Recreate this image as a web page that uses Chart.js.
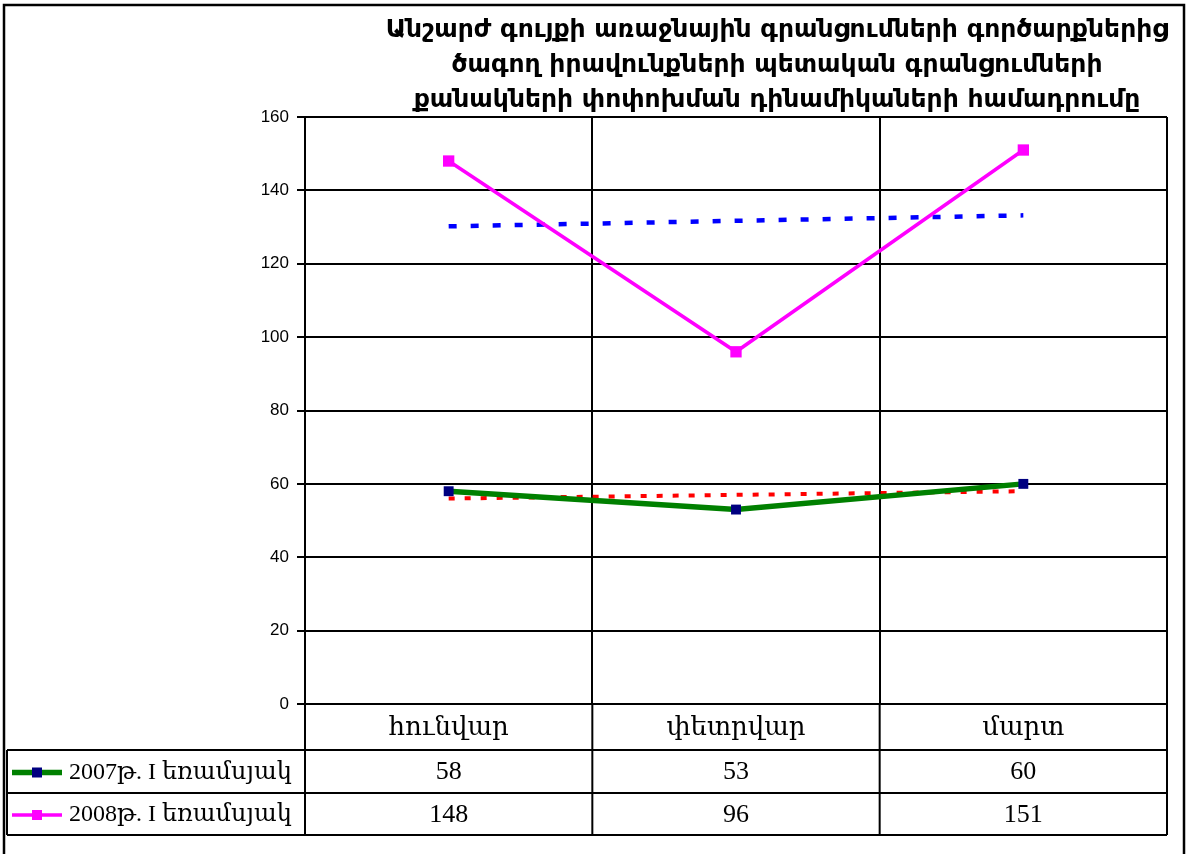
<!DOCTYPE html>
<html>
<head>
<meta charset="utf-8">
<script src="https://cdn.jsdelivr.net/npm/chart.js@4.4.1/dist/chart.umd.min.js"></script>
<style>
html,body{margin:0;padding:0;background:#fff;}
#wrap{width:1192px;height:854px;position:relative;}
</style>
</head>
<body>
<div id="wrap"><canvas id="c" width="1192" height="854"></canvas></div>
<script>
const titleLines = [
  "Անշարժ գույքի առաջնային գրանցումների գործարքներից",
  "ծագող իրավունքների պետական գրանցումների",
  "քանակների փոփոխման դինամիկաների համադրումը"
];
const categories = ["հունվար", "փետրվար", "մարտ"];
const seriesNames = ["2007թ. I եռամսյակ", "2008թ. I եռամսյակ"];
const values2007 = [58, 53, 60];
const values2008 = [148, 96, 151];
// trend lines
const trend2007 = [56, 57, 58];
const trend2008 = [130.2, 131.7, 133.2];
const yTicks = {min: 0, max: 160, step: 20};

const SERIF = '"Liberation Serif", "DejaVu Serif", serif';
const SANS = '"Liberation Sans", Arial, sans-serif';

const framePlugin = {
  id: 'frame',
  beforeDraw(chart) {
    const ctx = chart.ctx;
    ctx.save();
    ctx.fillStyle = '#fff';
    ctx.fillRect(0, 0, chart.width, chart.height);
    ctx.strokeStyle = '#000';
    ctx.lineWidth = 2.5;
    ctx.strokeRect(4, 5, 1180, 860);
    ctx.restore();
  },
  afterDraw(chart) {
    const ctx = chart.ctx;
    const xs = chart.scales.x;
    const ca = chart.chartArea;
    ctx.save();
    // title
    ctx.fillStyle = '#000';
    ctx.font = 'bold 25px "DejaVu Sans", sans-serif';
    ctx.textAlign = 'center';
    ctx.textBaseline = 'middle';
    const tcx = 777;
    titleLines.forEach((t, i) => ctx.fillText(t, tcx, 30 + i * 35));

    // table
    const n = categories.length;
    const cw = (xs.right - xs.left) / n;
    const yH = ca.bottom, y1 = 750, y2 = 793, y3 = 835;
    const tableLeft = 7;
    ctx.strokeStyle = '#000';
    ctx.lineWidth = 2;
    ctx.beginPath();
    ctx.moveTo(tableLeft, y1); ctx.lineTo(xs.right, y1);
    ctx.moveTo(tableLeft, y2); ctx.lineTo(xs.right, y2);
    ctx.moveTo(tableLeft, y3); ctx.lineTo(xs.right, y3);
    for (let i = 0; i <= n; i++) {
      const x = xs.left + i * cw;
      ctx.moveTo(x, yH); ctx.lineTo(x, y3);
    }
    ctx.moveTo(tableLeft, y1); ctx.lineTo(tableLeft, y3);
    ctx.stroke();

    ctx.font = '26px ' + SERIF;
    ctx.textAlign = 'center';
    ctx.textBaseline = 'middle';
    categories.forEach((c, i) => {
      ctx.fillText(c, xs.getPixelForValue(i), (yH + y1) / 2 + 1);
    });
    const rows = [values2007, values2008];
    const rowY = [(y1 + y2) / 2 + 1, (y2 + y3) / 2 + 1];
    rows.forEach((r, ri) => {
      r.forEach((v, i) => ctx.fillText(String(v), xs.getPixelForValue(i), rowY[ri]));
    });
    // legend keys
    chart.data.datasets.slice(0, 2).forEach((ds, ri) => {
      const y = rowY[ri];
      ctx.strokeStyle = ds.borderColor;
      ctx.lineWidth = ds.borderWidth;
      ctx.beginPath();
      ctx.moveTo(12, y); ctx.lineTo(62, y);
      ctx.stroke();
      ctx.fillStyle = ds.pointBackgroundColor;
      ctx.fillRect(32, y - 5, 10, 10);
      ctx.fillStyle = '#000';
      ctx.textAlign = 'left';
      ctx.font = '24px ' + SERIF;
      ctx.fillText(seriesNames[ri], 69, y);
    });
    ctx.restore();
  }
};

new Chart(document.getElementById('c'), {
  type: 'line',
  data: {
    labels: categories,
    datasets: [
      {
        label: seriesNames[0], data: values2007,
        borderColor: '#008000', borderWidth: 5.5,
        pointStyle: 'rect', pointRadius: 7,
        pointBackgroundColor: '#000080', pointBorderColor: '#000080', pointBorderWidth: 0,
        tension: 0, order: 1
      },
      {
        label: seriesNames[1], data: values2008,
        borderColor: '#FF00FF', borderWidth: 3.5,
        pointStyle: 'rect', pointRadius: 8,
        pointBackgroundColor: '#FF00FF', pointBorderColor: '#FF00FF', pointBorderWidth: 0,
        tension: 0, order: 1
      },
      {
        label: 'trend 2007', data: trend2007,
        borderColor: '#FF0000', borderWidth: 4, borderDash: [6, 10],
        pointRadius: 0, tension: 0, order: 2
      },
      {
        label: 'trend 2008', data: trend2008,
        borderColor: '#0000FF', borderWidth: 4.5, borderDash: [8, 14],
        pointRadius: 0, tension: 0, order: 2
      }
    ]
  },
  options: {
    responsive: false,
    animation: false,
    devicePixelRatio: 1,
    layout: {padding: {top: 117, right: 25, left: 0, bottom: 0}},
    plugins: {
      legend: {display: false},
      title: {display: false},
      tooltip: {enabled: false}
    },
    scales: {
      x: {
        offset: true,
        ticks: {display: false},
        grid: {color: '#000', lineWidth: 2, offset: true, drawTicks: false},
        border: {display: false},
        afterFit(s) { s.height = 150; }
      },
      y: {
        min: yTicks.min, max: yTicks.max,
        ticks: {stepSize: yTicks.step, color: '#000', font: {family: SANS, size: 17}, padding: 8},
        grid: {color: '#000', lineWidth: 2, tickLength: 8},
        border: {color: '#000', width: 2},
        afterFit(s) { s.width = 305; }
      }
    }
  },
  plugins: [framePlugin]
});
</script>
</body>
</html>
